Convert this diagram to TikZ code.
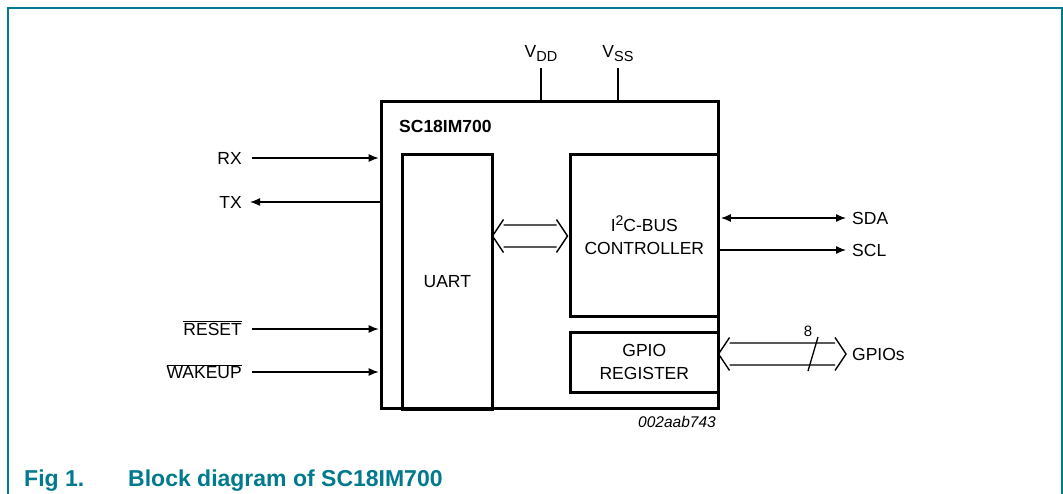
\documentclass[tikz,border=0pt]{standalone}
\usepackage{fontspec}
\setmainfont{Liberation Sans}
\usetikzlibrary{arrows.meta}
\definecolor{nxpteal}{RGB}{0,122,140}
\newcommand\wbus[3]{%
  \draw[bus] (#1+11,#3-16.5) -- (#1,#3) -- (#1+11,#3+16.5)
    (#1+11,#3-11) -- (#2-11,#3-11)
    (#1+11,#3+11) -- (#2-11,#3+11)
    (#2-11,#3-16.5) -- (#2,#3) -- (#2-11,#3+16.5);}
\newcommand\subtxt[1]{\raisebox{-4pt}{\fontsize{14.5}{17}\selectfont #1}}
\begin{document}
\begin{tikzpicture}[x=1pt,y=-1pt,
  lbl/.style={font=\fontsize{17.5}{21}\selectfont, inner sep=0pt, text height=12.5pt, text depth=0pt},
  blktxt/.style={font=\fontsize{17.5}{23}\selectfont, inner sep=0pt, align=center},
  blk/.style={draw, line width=2.6pt, inner sep=0pt},
  conn/.style={line width=1.3pt},
  tip/.style={-{Latex[length=10pt,width=8pt]}},
  tips/.style={{Latex[length=10pt,width=8pt]}-{Latex[length=10pt,width=8pt]}},
  bus/.style={line width=1.4pt, line join=miter},
  frame/.style={draw=nxpteal, line width=1.8pt},
  captxt/.style={font=\fontsize{23}{27}\selectfont\bfseries, text=nxpteal, inner sep=0pt, anchor=base west}]
\useasboundingbox (0,0) rectangle (1063,494);
% frame
\draw[frame] (8,494) -- (8,8) -- (1062,8) -- (1062,494);
% blocks
\node[blk, minimum width=337pt, minimum height=307pt, anchor=north west] (chip) at (380,100) {};
\node[blk, minimum width=90pt, minimum height=255pt, anchor=north west] (uart) at (401,153) {};
\node[blk, minimum width=148pt, minimum height=162pt, anchor=north west] (i2c) at (569,153) {};
\node[blk, minimum width=148pt, minimum height=60pt, anchor=north west] (gpio) at (569,331) {};
\node[blktxt] (uartt) at (uart.center) {UART};
\node[blktxt] (i2ct) at (i2c.center) {I\raisebox{6pt}{\fontsize{14}{16}\selectfont 2}C-BUS\\CONTROLLER};
\node[blktxt] (gpiot) at (gpio.center) {GPIO\\REGISTER};
\node[font=\fontsize{17.5}{21}\selectfont\bfseries, inner sep=0pt, anchor=base west] (name) at (399,133) {SC18IM700};
% supplies
\node[lbl, anchor=base] (vdd) at (541,58) {V\subtxt{DD}};
\node[lbl, anchor=base] (vss) at (618,58) {V\subtxt{SS}};
\draw[conn] ([yshift=-10pt]vdd.south) -- (vdd.south |- chip.north);
\draw[conn] ([yshift=-10pt]vss.south) -- (vss.south |- chip.north);
% left signals
\node[lbl, anchor=east] (rx) at (242,158) {RX};
\node[lbl, anchor=east] (tx) at (242,202) {TX};
\node[lbl, anchor=east] (rst) at (242,329) {$\overline{\mbox{RESET}}$};
\node[lbl, anchor=east] (wak) at (242,372) {$\overline{\mbox{WAKEUP}}$};
\draw[conn, tip, shorten >=1.3pt] ([xshift=10pt]rx.east) -- (rx.east -| chip.west);
\draw[conn, tip] (tx.east -| chip.west) -- ([xshift=8pt]tx.east);
\draw[conn, tip, shorten >=1.3pt] ([xshift=10pt]rst.east) -- (rst.east -| chip.west);
\draw[conn, tip, shorten >=1.3pt] ([xshift=10pt]wak.east) -- (wak.east -| chip.west);
% right signals
\node[lbl, anchor=west] (sda) at (852,218) {SDA};
\node[lbl, anchor=west] (scl) at (852,250) {SCL};
\node[lbl, anchor=west] (gpios) at (852,354) {GPIOs};
\draw[conn, tips, shorten <=1.3pt] (sda.west -| chip.east) -- ([xshift=-6pt]sda.west);
\draw[conn, tip] (scl.west -| chip.east) -- ([xshift=-6pt]scl.west);
% buses
\wbus{492.5}{567.5}{236}
\wbus{718.5}{846}{354}
\coordinate (sl1) at (808,371);
\coordinate (sl2) at (818,337);
\draw[conn] (sl1) -- (sl2);
\node[font=\fontsize{15}{18}\selectfont, inner sep=0pt] (eight) at (808,331) {8};
% id
\node[font=\fontsize{15.5}{18}\selectfont\itshape, inner sep=0pt, anchor=base west] (id) at (638,427) {002aab743};
% caption
\node[captxt] (fig) at (24,486) {Fig 1.};
\node[captxt] (title) at (128,486) {Block diagram of SC18IM700};
\end{tikzpicture}
\end{document}
